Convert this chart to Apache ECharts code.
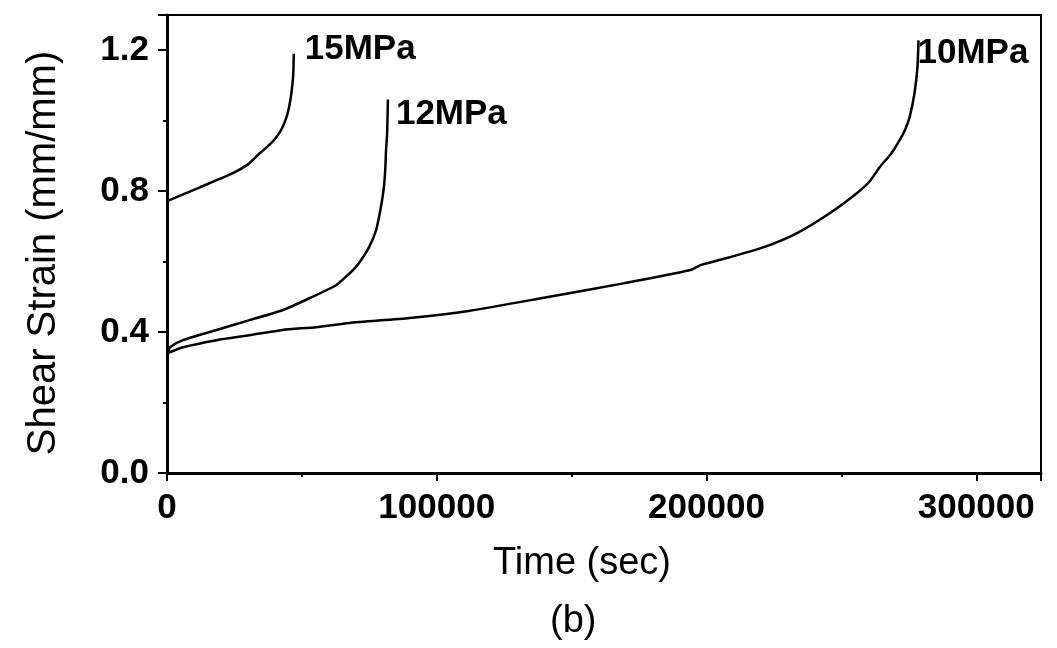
<!DOCTYPE html>
<html>
<head>
<meta charset="utf-8">
<script src="https://cdn.jsdelivr.net/npm/echarts@6/dist/echarts.min.js"></script>
<style>
  html, body { margin: 0; padding: 0; background: #fff; }
  #chart { width: 1057px; height: 648px; }
</style>
</head>
<body>
<div id="chart"></div>
<script>
// --- data ---
const time15 = [0, 1100, 12200, 24400, 30000, 34300, 38000, 40600, 42600, 44300, 45300, 46100, 46700, 46900, 47000];
const strain15 = [0.77, 0.775, 0.811, 0.851, 0.876, 0.907, 0.932, 0.954, 0.978, 1.01, 1.04, 1.078, 1.12, 1.152, 1.19];

const time12 = [0, 500, 1100, 5900, 18400, 30600, 42800, 52800, 62700, 65000, 68500, 71200, 74900, 77500, 79300, 80400, 80900, 81200, 81600, 81900];
const strain12 = [0.33, 0.345, 0.357, 0.377, 0.406, 0.434, 0.462, 0.496, 0.533, 0.548, 0.572, 0.596, 0.641, 0.689, 0.755, 0.811, 0.86, 0.916, 0.964, 1.06];

const time10 = [0, 500, 1100, 5900, 18400, 30600, 42800, 55300, 67500, 90000, 111800, 138700, 169700, 194100, 197800, 208900, 221300, 233600, 245800, 255700, 260500, 264200, 268200, 271600, 273700, 275300, 277100, 278200, 278600];
const strain10 = [0.33, 0.34, 0.343, 0.357, 0.377, 0.391, 0.406, 0.414, 0.426, 0.44, 0.46, 0.496, 0.539, 0.576, 0.59, 0.613, 0.641, 0.681, 0.738, 0.794, 0.828, 0.868, 0.904, 0.945, 0.976, 1.01, 1.078, 1.152, 1.228];

const curveNames = ['15MPa', '12MPa', '10MPa'];
const xTicks = [0, 100000, 200000, 300000];
const yTicks = ['0.0', '0.4', '0.8', '1.2'];

const FONT = '"Liberation Sans", Arial, sans-serif';

const zip = (times, strains) => times.map((t, i) => [t, strains[i]]);

// one black curve, its name written at its end
const lineSeries = (data, name, labelOffset) => ({
    type: 'line',
    name: name,
    data: data,
    showSymbol: false,
    symbol: 'none',
    smooth: 0.2,
    lineStyle: { color: '#000', width: 2.5, join: 'round' },
    endLabel: {
        show: true, formatter: name, offset: labelOffset,
        color: '#000', fontFamily: FONT, fontWeight: 'bold', fontSize: 35
    },
    silent: true,
    animation: false
});

const chart = echarts.init(document.getElementById('chart'));

chart.setOption({
    backgroundColor: '#fff',
    animation: false,
    grid: {
        left: 167, right: 16, top: 15, bottom: 175,
        show: true, borderColor: '#000', borderWidth: 2
    },
    xAxis: {
        type: 'value',
        min: 0, max: 324000, interval: 100000,
        name: 'Time (sec)',
        nameLocation: 'middle',
        nameGap: 72,
        nameTextStyle: { fontFamily: FONT, fontSize: 38, color: '#000', padding: [0, 44, 0, 0] },
        axisLine: { show: true, lineStyle: { color: '#000', width: 3 } },
        axisTick: { show: true, length: 8, lineStyle: { color: '#000', width: 2 } },
        minorTick: { show: true, splitNumber: 2, length: 4, lineStyle: { color: '#000', width: 2 } },
        axisLabel: {
            fontFamily: FONT, fontWeight: 'bold', fontSize: 35, color: '#000', margin: 18,
            showMaxLabel: false,
            formatter: (v) => xTicks.includes(v) ? String(v) : ''
        },
        splitLine: { show: false }
    },
    yAxis: {
        type: 'value',
        min: 0, max: 1.3, interval: 0.4,
        name: 'Shear Strain (mm/mm)',
        nameLocation: 'middle',
        nameGap: 103,
        nameTextStyle: { fontFamily: FONT, fontSize: 40, color: '#000', padding: [0, 18, 0, 0] },
        axisLine: { show: true, lineStyle: { color: '#000', width: 3 } },
        axisTick: { show: true, length: 9, lineStyle: { color: '#000', width: 2 } },
        minorTick: { show: true, splitNumber: 2, length: 4, lineStyle: { color: '#000', width: 2 } },
        axisLabel: {
            fontFamily: FONT, fontWeight: 'bold', fontSize: 35, color: '#000', margin: 18,
            showMaxLabel: false,
            formatter: (v) => {
                const s = v.toFixed(1);
                return yTicks.includes(s) ? s : '';
            }
        },
        splitLine: { show: false }
    },
    graphic: [{
        type: 'text',
        left: 550, top: 603,
        style: { text: '(b)', font: '38px ' + FONT, fill: '#000' }
    }],
    series: [
        lineSeries(zip(time15, strain15), curveNames[0], [3, -4]),
        lineSeries(zip(time12, strain12), curveNames[1], [0, 15]),
        lineSeries(zip(time10, strain10), curveNames[2], [-9, 13])
    ]
});
</script>
</body>
</html>
